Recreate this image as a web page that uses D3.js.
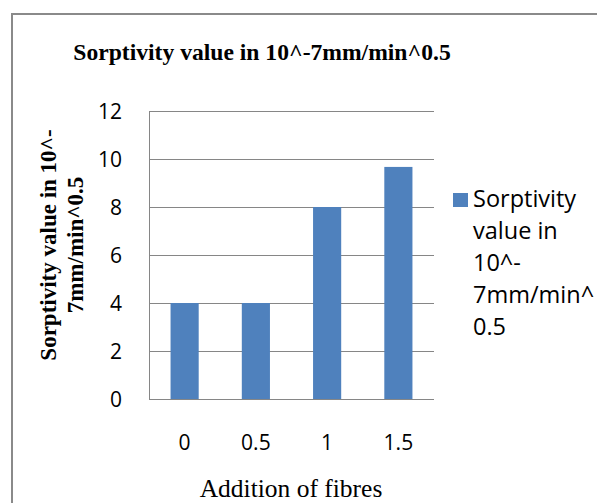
<!DOCTYPE html>
<html>
<head>
<meta charset="utf-8">
<script src="https://cdn.jsdelivr.net/npm/d3@7"></script>
<style>
  html, body { margin: 0; padding: 0; background: #fff; }
  svg { display: block; }
</style>
</head>
<body>
<svg id="chart" width="597" height="503"></svg>
<script>
const categories = ["0", "0.5", "1", "1.5"];
const values = [4, 4, 8, 9.67];
const yTicks = [0, 2, 4, 6, 8, 10, 12];
const chartTitle = "Sorptivity value in 10^-7mm/min^0.5";
const yTitleLines = ["Sorptivity value in 10^-", "7mm/min^0.5"];
const xTitle = "Addition of fibres";
const legendLines = ["Sorptivity", "value in", "10^-", "7mm/min^", "0.5"];

const svg = d3.select("#chart");
const plot = { left: 149, right: 434, top: 111, bottom: 399 };
const blue = "#4F81BD";
const grid = "#868686";
const sans = "'Open Sans', 'Liberation Sans', sans-serif";
const serif = "'Liberation Serif', 'Times New Roman', serif";

// outer border (top and left visible)
svg.append("path")
  .attr("d", "M12,503 L12,14 L597,14")
  .attr("fill", "none").attr("stroke", "#8a8a8a").attr("stroke-width", 2);

const x = d3.scaleBand().domain(categories).range([plot.left, plot.right]).padding(0);
const y = d3.scaleLinear().domain([0, 12]).range([plot.bottom, plot.top]);

// gridlines
svg.append("g").selectAll("line").data(yTicks).join("line")
  .attr("x1", plot.left).attr("x2", plot.right)
  .attr("y1", d => Math.round(y(d)) + 0.5).attr("y2", d => Math.round(y(d)) + 0.5)
  .attr("stroke", grid).attr("stroke-width", 1);

// left axis line
svg.append("line")
  .attr("x1", plot.left + 0.5).attr("x2", plot.left + 0.5)
  .attr("y1", plot.top).attr("y2", plot.bottom + 1)
  .attr("stroke", grid).attr("stroke-width", 1);

// bars
const barW = x.bandwidth() * 0.395;
svg.append("g").selectAll("rect").data(values).join("rect")
  .attr("x", (d, i) => x(categories[i]) + x.bandwidth() / 2 - barW / 2)
  .attr("width", barW)
  .attr("y", d => y(d))
  .attr("height", d => y(0) - y(d))
  .attr("fill", blue);

// y tick labels
svg.append("g").selectAll("text").data(yTicks).join("text")
  .attr("x", 122).attr("y", d => y(d))
  .attr("dy", "0.36em")
  .attr("text-anchor", "end")
  .attr("font-family", sans).attr("font-size", 21).attr("fill", "#000")
  .text(d => d);

// x tick labels
svg.append("g").selectAll("text").data(categories).join("text")
  .attr("x", d => x(d) + x.bandwidth() / 2).attr("y", 450)
  .attr("text-anchor", "middle")
  .attr("font-family", sans).attr("font-size", 21).attr("fill", "#000")
  .text(d => d);

// chart title
svg.append("text")
  .attr("x", 262).attr("y", 60)
  .attr("text-anchor", "middle")
  .attr("font-family", serif).attr("font-weight", "bold").attr("font-size", 23.6)
  .attr("fill", "#000")
  .text(chartTitle);

// y axis title
const yt = svg.append("text")
  .attr("transform", "translate(0,245) rotate(-90)")
  .attr("text-anchor", "middle")
  .attr("font-family", serif).attr("font-weight", "bold").attr("font-size", 23)
  .attr("fill", "#000");
yt.selectAll("tspan").data(yTitleLines).join("tspan")
  .attr("x", 0).attr("y", (d, i) => [56, 83][i])
  .text(d => d);

// x axis title
svg.append("text")
  .attr("x", 291).attr("y", 497)
  .attr("text-anchor", "middle")
  .attr("font-family", serif).attr("font-size", 25.5).attr("fill", "#000")
  .text(xTitle);

// legend
svg.append("rect").attr("x", 453).attr("y", 193).attr("width", 15).attr("height", 14).attr("fill", blue);
svg.append("g").selectAll("text").data(legendLines).join("text")
  .attr("x", 473).attr("y", (d, i) => 207 + 32 * i)
  .attr("font-family", sans).attr("font-size", 23.5).attr("fill", "#000")
  .text(d => d);
</script>
</body>
</html>
